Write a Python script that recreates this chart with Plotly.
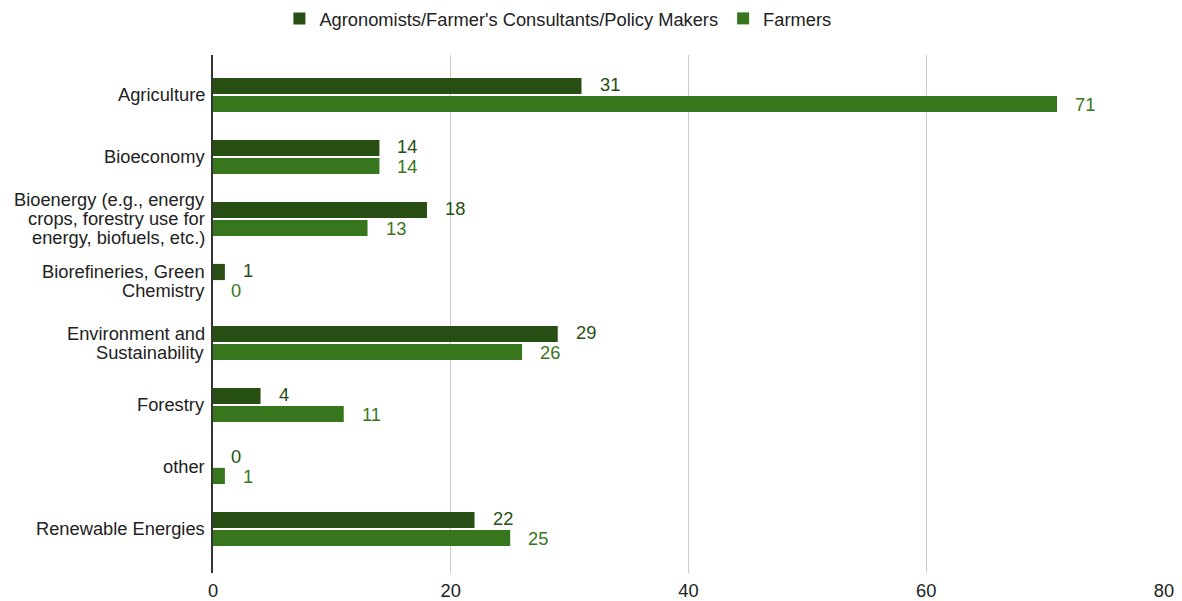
import plotly.graph_objects as go

categories = [
    "Agriculture",
    "Bioeconomy",
    "Bioenergy (e.g., energy<br>crops, forestry use for<br>energy, biofuels, etc.)",
    "Biorefineries, Green<br>Chemistry",
    "Environment and<br>Sustainability",
    "Forestry",
    "other",
    "Renewable Energies",
]
agronomists = [31, 14, 18, 1, 29, 4, 0, 22]
farmers = [71, 14, 13, 0, 26, 11, 1, 25]

series_names = ["Agronomists/Farmer's Consultants/Policy Makers", "Farmers"]
bar_colors = ["#274e13", "#38761d"]
label_colors = ["#274e13", "#38761d"]

FONT = "Liberation Sans, Arial, sans-serif"
FS = 18.3
LINE_H = 19  # px between lines of a wrapped category label

fig = go.Figure()
for name, vals, col in zip(series_names, [agronomists, farmers], bar_colors):
    fig.add_trace(go.Bar(
        y=categories, x=vals, name=name, orientation="h",
        marker=dict(color=col, line=dict(width=0)),
    ))

# value labels just past the end of each bar
for k, (vals, col) in enumerate(zip([agronomists, farmers], label_colors)):
    shift = 10 if k == 0 else -10
    for cat, v in zip(categories, vals):
        fig.add_annotation(
            x=v, y=cat, text=str(v), showarrow=False,
            xanchor="left", xshift=16, yshift=shift,
            font=dict(family=FONT, size=FS, color=col),
        )

# category labels, one line at a time for tight line spacing
for cat in categories:
    lines = cat.split("<br>")
    n = len(lines)
    for i, line in enumerate(lines):
        fig.add_annotation(
            xref="paper", x=0, y=cat, text=line, showarrow=False,
            xanchor="right", yanchor="middle", xshift=-7, borderpad=0,
            yshift=((n - 1) / 2 - i) * LINE_H,
            font=dict(family=FONT, size=FS, color="#222222"),
        )

fig.update_layout(
    width=1182, height=601,
    margin=dict(l=213, r=18, t=55, b=28, autoexpand=False),
    paper_bgcolor="white", plot_bgcolor="white",
    barmode="group", bargap=0.42, bargroupgap=0.1,
    font=dict(family=FONT, size=FS, color="#222222"),
    legend=dict(
        orientation="h", xref="container", x=0.472, xanchor="center",
        yref="container", y=1.0, yanchor="top",
        font=dict(family=FONT, size=FS, color="#222222"),
        itemwidth=30, traceorder="normal",
    ),
    xaxis=dict(
        range=[0, 80], dtick=20, showgrid=True, gridcolor="#cccccc", gridwidth=1,
        zeroline=False, showline=False, ticks="", automargin=False,
        ticklabelstandoff=5, tickfont=dict(family=FONT, size=FS, color="#222222"),
    ),
    yaxis=dict(
        type="category", range=[7.71, -0.645], showgrid=False, zeroline=False,
        showline=True, linecolor="#333333", linewidth=1.5, ticks="", automargin=False,
        showticklabels=False,
    ),
)

fig.write_html("out.html")
